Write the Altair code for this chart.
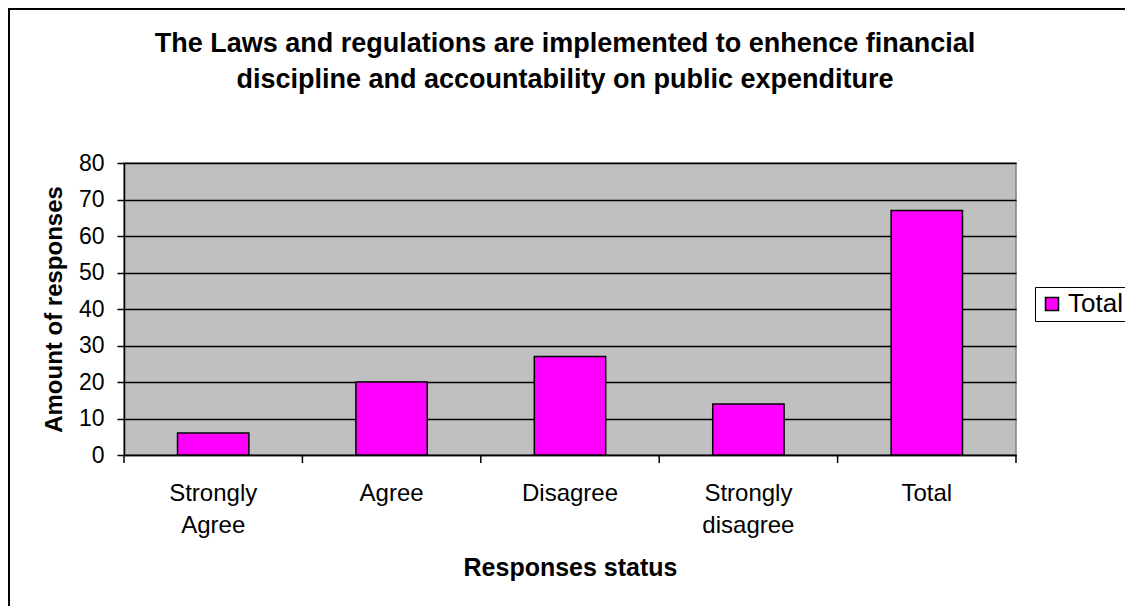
import altair as alt
import pandas as pd

categories = ["Strongly Agree", "Agree", "Disagree", "Strongly disagree", "Total"]
values = [6, 20, 27, 14, 67]
series = ["Total"] * 5
boundaries = [0, 1, 2, 3, 4, 5]
y_ticks = [0, 10, 20, 30, 40, 50, 60, 70, 80]

title_lines = ["The Laws and regulations are implemented to enhence financial",
               "discipline and accountability on public expenditure"]

FONT = "Liberation Sans"
W, H = 892, 292

df = pd.DataFrame({"cat": categories, "val": values, "series": series})
bdf = pd.DataFrame({"b": boundaries})
frame_df = pd.DataFrame({"k": [0]})

border = alt.Chart(frame_df).mark_rect(fill="transparent", stroke="black", strokeWidth=2, clip=False).encode(
    x=alt.value(-115), x2=alt.value(1120), y=alt.value(-154), y2=alt.value(700)
)

bars = alt.Chart(df).mark_bar(stroke="black", strokeWidth=1.5).encode(
    x=alt.X("cat:N", sort=categories,
            scale=alt.Scale(paddingInner=0.6, paddingOuter=0.3),
            axis=alt.Axis(title="Responses status", labelAngle=0, ticks=False,
                          labelExpr="split(datum.label, ' ')",
                          labelFontSize=24, labelFont=FONT, labelColor="black",
                          labelPadding=26, labelLineHeight=32, labelBaseline="top",
                          titleFont=FONT, titleFontSize=25, titleFontWeight="bold",
                          titleColor="black", titlePadding=18,
                          domainColor="black", domainWidth=1.5, grid=False)),
    y=alt.Y("val:Q", scale=alt.Scale(domain=[0, 80], nice=False),
            axis=alt.Axis(title="Amount of responses", values=y_ticks,
                          labelFontSize=23, labelFont=FONT, labelColor="black",
                          tickSize=7, tickColor="black", tickWidth=1.5, labelPadding=13,
                          titleFont=FONT, titleFontSize=24, titleFontWeight="bold",
                          titleColor="black", titlePadding=12,
                          domainColor="black", domainWidth=1.5,
                          grid=True, gridColor="black", gridWidth=1.5, gridOpacity=1)),
    color=alt.Color("series:N", scale=alt.Scale(domain=["Total"], range=["#FF00FF"]),
                    legend=alt.Legend(title=None, orient="none", legendX=911, legendY=124,
                                      strokeColor="black", fillColor="white", padding=4,
                                      symbolType="square", symbolSize=169,
                                      symbolStrokeColor="black", symbolStrokeWidth=1.5,
                                      symbolFillColor="#FF00FF", symbolOpacity=1,
                                      labelFont=FONT, labelFontSize=26, labelColor="black",
                                      labelOffset=3)),
)

ticks = alt.Chart(bdf).mark_rule(color="black", strokeWidth=1.5).encode(
    x=alt.X("b:Q", scale=alt.Scale(domain=[0, 5], nice=False), axis=None),
    y=alt.value(H), y2=alt.value(H + 8),
)

chart = alt.layer(border, bars, ticks).resolve_scale(x="independent").properties(
    width=W, height=H,
    title=alt.TitleParams(text=title_lines, font=FONT, fontSize=27, fontWeight="bold",
                          color="black", anchor="middle", lineHeight=36, offset=0,
                          dy=86, dx=-5),
    autosize=alt.AutoSizeParams(type="none"),
    padding={"left": 116, "top": 155, "right": 109, "bottom": 151},
    background="white",
).configure_view(fill="#C0C0C0", stroke="#808080", strokeWidth=1.5)

chart.save("out.html", embed_options={"renderer": "svg", "actions": False})
